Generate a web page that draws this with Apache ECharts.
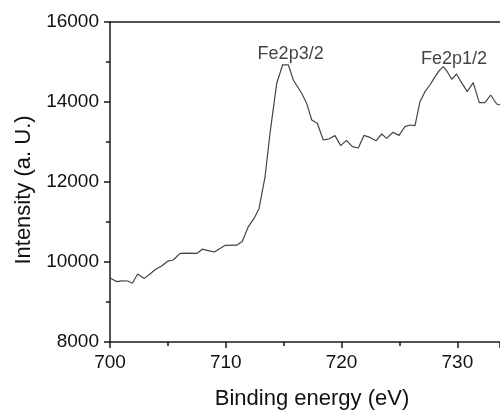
<!DOCTYPE html>
<html>
<head>
<meta charset="utf-8">
<script src="https://cdn.jsdelivr.net/npm/echarts@6/dist/echarts.min.js"></script>
<style>
  html, body { margin: 0; padding: 0; background: #fff; }
  #chart { width: 500px; height: 415px; }
</style>
</head>
<body>
<div id="chart"></div>
<script>
// binding energy (eV) and intensity
var energy = [700.0, 700.58, 701.01, 701.53, 701.93, 702.39, 702.96, 703.45, 703.95, 704.46,
  704.98, 705.47, 706.04, 706.62, 707.49, 707.97, 708.49, 709.01, 709.5, 709.93,
  710.94, 711.42, 711.94, 712.52, 712.87, 713.39, 713.82, 714.4, 714.91, 715.4,
  715.83, 716.55, 716.98, 717.42, 717.9, 718.42, 718.93, 719.43, 719.92, 720.42,
  720.93, 721.44, 721.93, 722.45, 722.97, 723.46, 723.89, 724.44, 724.96, 725.47,
  725.91, 726.34, 726.77, 727.2, 727.63, 727.98, 728.43, 728.78, 729.13, 729.51,
  729.93, 730.36, 730.85, 731.37, 731.89, 732.38, 732.88, 733.39, 733.68];
var intensity = [9600, 9510, 9530, 9525, 9470, 9700, 9590, 9700, 9820, 9900,
  10020, 10050, 10215, 10220, 10215, 10320, 10285, 10250, 10340, 10415,
  10420, 10510, 10880, 11130, 11340, 12130, 13220, 14470, 14930, 14930,
  14550, 14220, 13970, 13550, 13470, 13050, 13080, 13160, 12910, 13040,
  12885, 12850, 13165, 13115, 13030, 13200, 13090, 13245, 13165, 13383,
  13425, 13410, 14008, 14258, 14425, 14592, 14783, 14883, 14758, 14567,
  14700, 14483, 14258, 14483, 13983, 13983, 14175, 13950, 13925];

// peak annotations
var peakNames = ['Fe2p3/2', 'Fe2p1/2'];
var peakX = [715.6, 729.7];
var peakY = [15200, 15075];

var chart = echarts.init(document.getElementById('chart'));
var font = 'Liberation Sans, Arial, sans-serif';
var axisColor = '#1a1a1a';
var plain = function (v) { return String(v); };

chart.setOption({
  animation: false,
  grid: { left: 110, top: 22, right: 0, bottom: 73 },
  xAxis: [{
    type: 'value',
    min: 700,
    max: 733.68,
    interval: 10,
    name: 'Binding energy (eV)',
    nameLocation: 'middle',
    nameGap: 46,
    nameTextStyle: { fontFamily: font, fontSize: 22, color: '#111', padding: [0, 0, 0, 14] },
    axisLine: { lineStyle: { color: axisColor, width: 1.5 } },
    axisTick: { show: true, inside: false, length: 6, lineStyle: { color: axisColor, width: 1.5 } },
    minorTick: { show: true, splitNumber: 2, length: 4, lineStyle: { color: axisColor, width: 1.5 } },
    axisLabel: { fontFamily: font, fontSize: 19, color: '#111', margin: 11, showMaxLabel: false, formatter: plain },
    splitLine: { show: false }
  }, {
    type: 'value',
    position: 'top',
    min: 700,
    max: 733.68,
    axisLine: { show: true, lineStyle: { color: axisColor, width: 1.5 } },
    axisTick: { show: false },
    axisLabel: { show: false },
    splitLine: { show: false }
  }],
  yAxis: {
    type: 'value',
    min: 8000,
    max: 16000,
    interval: 2000,
    name: 'Intensity (a. U.)',
    nameLocation: 'middle',
    nameGap: 74,
    nameTextStyle: { fontFamily: font, fontSize: 22, color: '#111', padding: [0, 16, 0, 0] },
    axisLine: { show: true, lineStyle: { color: axisColor, width: 1.5 } },
    axisTick: { show: true, inside: false, length: 6, lineStyle: { color: axisColor, width: 1.5 } },
    minorTick: { show: true, splitNumber: 2, length: 4, lineStyle: { color: axisColor, width: 1.5 } },
    axisLabel: { fontFamily: font, fontSize: 19, color: '#111', margin: 11, formatter: plain },
    splitLine: { show: false }
  },
  series: [{
    type: 'line',
    data: energy.map(function (e, i) { return [e, intensity[i]]; }),
    showSymbol: false,
    lineStyle: { color: '#444', width: 1.2 },
    clip: true
  }, {
    type: 'scatter',
    symbolSize: 0,
    data: peakNames.map(function (n, i) { return { name: n, value: [peakX[i], peakY[i]] }; }),
    label: {
      show: true,
      position: 'inside',
      formatter: '{b}',
      fontFamily: font,
      fontSize: 18,
      color: '#111'
    }
  }]
});
</script>
</body>
</html>
